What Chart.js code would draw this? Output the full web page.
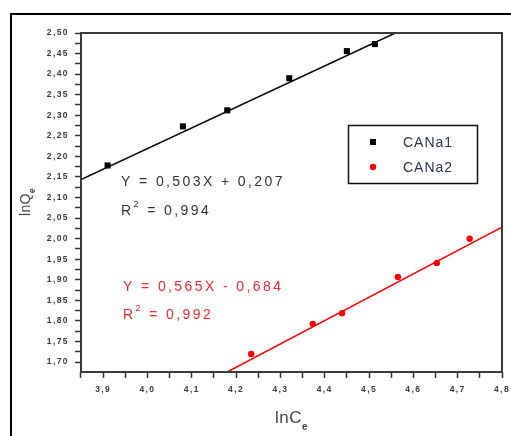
<!DOCTYPE html>
<html><head><meta charset="utf-8">
<script src="https://cdn.jsdelivr.net/npm/chart.js@4.4.0/dist/chart.umd.min.js"></script>
<style>html,body{margin:0;padding:0;background:#fff;}canvas{display:block;}</style>
</head><body>
<canvas id="c" width="511" height="436"></canvas>
<script>
// ---- data ----
const xTickLabels = ['3,9','4,0','4,1','4,2','4,3','4,4','4,5','4,6','4,7','4,8'];
const yTickLabels = ['1,70','1,75','1,80','1,85','1,90','1,95','2,00','2,05','2,10','2,15','2,20','2,25','2,30','2,35','2,40','2,45','2,50'];
const seriesNames = ['CANa1', 'CANa2'];
const canA1X = [3.91, 4.08, 4.18, 4.32, 4.45, 4.513];
const canA1Y = [2.178, 2.273, 2.312, 2.390, 2.456, 2.473];
const canA2X = [4.234, 4.373, 4.439, 4.565, 4.653, 4.727];
const canA2Y = [1.720, 1.793, 1.819, 1.907, 1.941, 2.000];
const fit1X = [3.85, 4.559];
const fit1Y = [2.144, 2.500];
const fit2X = [4.18, 4.80];
const fit2Y = [1.676, 2.028];
const fit1Eq = 'Y = 0,503X + 0,207';
const fit1R2 = '0,994';
const fit2Eq = 'Y = 0,565X - 0,684';
const fit2R2 = '0,992';
const xTitle = ['lnC', 'e'];
const yTitle = ['lnQ', 'e'];
const xMin = 3.85, xMax = 4.8, yMin = 1.676, yMax = 2.5;

const num = s => parseFloat(s.replace(',', '.'));
const pts = (xs, ys) => xs.map((x, i) => ({x, y: ys[i]}));
function tickSet(labels, lo, hi) {
  const major = labels.map(num);
  const step = major[1] - major[0];
  const all = [];
  major.forEach(v => { all.push(v); all.push(v - step / 2); });
  all.push(major[major.length - 1] + step / 2);
  return all.filter(v => v >= lo - 1e-9 && v <= hi + 1e-9).sort((a, b) => a - b);
}
function labelFor(labels, v) {
  const i = labels.findIndex(l => Math.abs(num(l) - v) < 1e-6);
  return i >= 0 ? labels[i] : '';
}
const FONT = "'Liberation Sans', Arial, sans-serif";

function drawRuns(ctx, x, y, runs, spacing) {
  ctx.letterSpacing = spacing + 'px';
  ctx.textAlign = 'left';
  ctx.textBaseline = 'alphabetic';
  runs.forEach(r => {
    ctx.font = (r.bold ? 'bold ' : '') + r.size + 'px ' + FONT;
    ctx.fillText(r.t, x, y + (r.dy || 0));
    x += ctx.measureText(r.t).width;
  });
  ctx.letterSpacing = '0px';
}

const decor = {
  id: 'decor',
  beforeDraw(chart) {
    const ctx = chart.ctx;
    ctx.save();
    ctx.fillStyle = '#fff';
    ctx.fillRect(0, 0, chart.width, chart.height);
    ctx.strokeStyle = '#000';
    ctx.lineWidth = 2;
    ctx.beginPath();
    ctx.moveTo(11, 436); ctx.lineTo(11, 14); ctx.lineTo(511, 14);
    ctx.stroke();
    ctx.restore();
    ctx.letterSpacing = '1.4px';
  },
  afterDraw(chart) {
    const ctx = chart.ctx;
    ctx.letterSpacing = '0px';
    const a = chart.chartArea;
    ctx.save();
    // plot frame
    ctx.strokeStyle = '#3a3a3a';
    ctx.lineWidth = 2;
    ctx.strokeRect(a.left, a.top, a.right - a.left, a.bottom - a.top);

    // legend
    ctx.strokeStyle = '#111';
    ctx.lineWidth = 1.5;
    ctx.strokeRect(348.5, 125.5, 129, 58);
    ctx.fillStyle = '#000';
    ctx.fillRect(370, 139, 6, 6);
    ctx.fillStyle = '#ff0000';
    ctx.beginPath(); ctx.arc(373, 167, 3.2, 0, Math.PI * 2); ctx.fill();
    ctx.fillStyle = '#2b3450';
    drawRuns(ctx, 403, 147, [{t: seriesNames[0], size: 14}], 1);
    drawRuns(ctx, 403, 172, [{t: seriesNames[1], size: 14}], 1);

    // equations
    ctx.fillStyle = '#333';
    drawRuns(ctx, 121, 186, [{t: fit1Eq, size: 14}], 2.4);
    drawRuns(ctx, 121, 215, [{t: 'R', size: 14}, {t: '2', size: 9, dy: -8}, {t: ' = ' + fit1R2, size: 14}], 2.4);
    ctx.fillStyle = '#ee2a2a';
    drawRuns(ctx, 123, 291, [{t: fit2Eq, size: 14}], 2.4);
    drawRuns(ctx, 123, 319, [{t: 'R', size: 14}, {t: '2', size: 9, dy: -8}, {t: ' = ' + fit2R2, size: 14}], 2.4);

    // axis titles
    ctx.fillStyle = '#444';
    drawRuns(ctx, 275, 423, [{t: xTitle[0], size: 17}, {t: xTitle[1], size: 10, bold: true, dy: 7}], 0.5);
    ctx.translate(30, 216);
    ctx.rotate(-Math.PI / 2);
    drawRuns(ctx, 0, 0, [{t: yTitle[0], size: 14}, {t: yTitle[1], size: 9, bold: true, dy: 5}], 0.3);
    ctx.restore();
  }
};

const xTicks = tickSet(xTickLabels, xMin, xMax);
const yTicks = tickSet(yTickLabels, yMin, yMax);

const tickCommon = {
  font: {family: FONT, size: 8.5, weight: 'bold'},
  color: '#3a3a3a',
  autoSkip: false,
  maxRotation: 0,
  minRotation: 0
};
const gridCommon = {
  drawOnChartArea: false,
  drawTicks: true,
  tickLength: 6,
  tickWidth: 1.5,
  tickColor: '#333'
};

new Chart(document.getElementById('c'), {
  type: 'scatter',
  data: {
    datasets: [
      {label: seriesNames[0], data: pts(canA1X, canA1Y), pointStyle: 'rect', pointRadius: 4.3,
       backgroundColor: '#000', borderColor: '#000', borderWidth: 0, order: 1},
      {label: seriesNames[1], data: pts(canA2X, canA2Y), pointStyle: 'circle', pointRadius: 3.2,
       backgroundColor: '#ff0000', borderColor: '#ff0000', borderWidth: 0, order: 1},
      {label: 'fit1', data: pts(fit1X, fit1Y), showLine: true, pointRadius: 0,
       borderColor: '#000', borderWidth: 1.5, order: 2},
      {label: 'fit2', data: pts(fit2X, fit2Y), showLine: true, pointRadius: 0,
       borderColor: '#ff0000', borderWidth: 1.5, order: 2}
    ]
  },
  options: {
    responsive: false,
    animation: false,
    devicePixelRatio: 1,
    layout: {padding: {top: 33, right: 9, left: 0, bottom: 0}},
    plugins: {legend: {display: false}, tooltip: {enabled: false}},
    scales: {
      x: {
        type: 'linear', min: xMin, max: xMax,
        afterBuildTicks: s => { s.ticks = xTicks.map(v => ({value: v})); },
        afterFit: s => { s.height = 64; s.paddingLeft = 0; s.paddingRight = 0; },
        ticks: Object.assign({}, tickCommon, {padding: 7, callback: v => labelFor(xTickLabels, v)}),
        grid: gridCommon,
        border: {display: false}
      },
      y: {
        type: 'linear', min: yMin, max: yMax,
        afterBuildTicks: s => { s.ticks = yTicks.map(v => ({value: v})); },
        afterFit: s => { s.width = 81; s.paddingTop = 0; s.paddingBottom = 0; },
        ticks: Object.assign({}, tickCommon, {padding: 6, callback: v => labelFor(yTickLabels, v)}),
        grid: gridCommon,
        border: {display: false}
      }
    }
  },
  plugins: [decor]
});
</script>
</body></html>
